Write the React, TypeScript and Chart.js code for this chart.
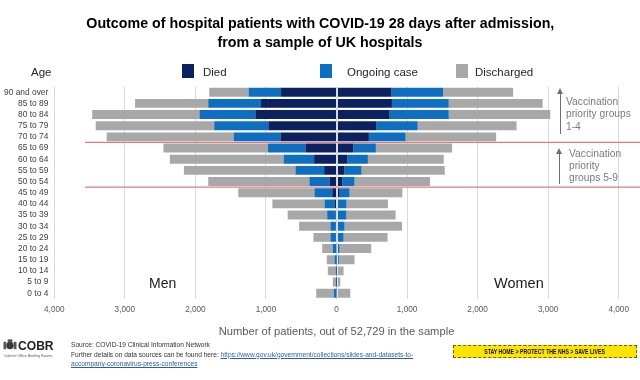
import React, { useEffect, useRef } from "react";
import { Chart, registerables } from "chart.js";

Chart.register(...registerables);

const ageGroups = [
  "90 and over", "85 to 89", "80 to 84", "75 to 79", "70 to 74", "65 to 69",
  "60 to 64", "55 to 59", "50 to 54", "45 to 49", "40 to 44", "35 to 39",
  "30 to 34", "25 to 29", "20 to 24", "15 to 19", "10 to 14", "5 to 9", "0 to 4",
];

const menDied = [786, 1070, 1151, 966, 795, 440, 317, 175, 100, 60, 30, 15, 10, 8, 5, 3, 2, 1, 5];
const menOngoing = [460, 748, 791, 767, 664, 530, 432, 407, 284, 252, 140, 117, 75, 77, 47, 25, 10, 5, 33];
const menDischarged = [558, 1037, 1520, 1680, 1798, 1483, 1613, 1581, 1434, 1080, 739, 560, 445, 242, 151, 110, 111, 46, 250];

const womenDied = [781, 786, 753, 568, 459, 237, 156, 114, 80, 45, 20, 20, 15, 12, 8, 5, 3, 2, 5];
const womenOngoing = [729, 805, 838, 583, 521, 321, 289, 241, 176, 140, 122, 120, 99, 88, 35, 28, 7, 3, 10];
const womenDischarged = [994, 1331, 1439, 1401, 1283, 1080, 1075, 1179, 1069, 748, 587, 698, 814, 624, 450, 223, 90, 48, 180];

const seriesNames = ["Died", "Ongoing case", "Discharged"];
const seriesColors = ["#0c2160", "#0e6fc1", "#a8a8a8"];

const priorityBoundaries = ["70 to 74", "50 to 54"];
const axisMax = 4000;
const axisStep = 1000;

const titleLines = [
  "Outcome of hospital patients with COVID-19 28 days after admission,",
  "from a sample of UK hospitals",
];
const axisTitle = "Number of patients, out of 52,729 in the sample";

const SANS = "'Liberation Sans', Arial, sans-serif";

const overlayPlugin = {
  id: "overlay",
  afterDatasetsDraw(chart: any) {
    const { ctx, chartArea, scales } = chart;
    const x0 = Math.round(scales.x.getPixelForValue(0)) + 0.5;
    ctx.save();
    ctx.strokeStyle = "rgba(226,232,242,0.95)";
    ctx.lineWidth = 1;
    ctx.beginPath();
    ctx.moveTo(x0, chartArea.top);
    ctx.lineTo(x0, chartArea.bottom);
    ctx.stroke();
    ctx.strokeStyle = "#e07a7a";
    ctx.lineWidth = 1.2;
    for (const label of priorityBoundaries) {
      const i = ageGroups.indexOf(label);
      const y = (scales.y.getPixelForValue(i) + scales.y.getPixelForValue(i + 1)) / 2;
      ctx.beginPath();
      ctx.moveTo(85, y);
      ctx.lineTo(chart.width, y);
      ctx.stroke();
    }
    ctx.restore();
  },
};

function PyramidChart() {
  const ref = useRef<HTMLCanvasElement | null>(null);
  useEffect(() => {
    if (!ref.current) return;
    const men = [menDied, menOngoing, menDischarged];
    const women = [womenDied, womenOngoing, womenDischarged];
    const datasets: any[] = [];
    men.forEach((arr, k) => {
      datasets.push({
        label: seriesNames[k] + " (men)",
        data: arr.map((v) => -v),
        backgroundColor: seriesColors[k],
        stack: "s",
      });
    });
    women.forEach((arr, k) => {
      datasets.push({
        label: seriesNames[k] + " (women)",
        data: arr,
        backgroundColor: seriesColors[k],
        stack: "s",
      });
    });
    const chart = new Chart(ref.current, {
      type: "bar",
      data: { labels: ageGroups, datasets },
      plugins: [overlayPlugin],
      options: {
        indexAxis: "y",
        responsive: false,
        animation: false,
        datasets: { bar: { barPercentage: 0.8, categoryPercentage: 1 } },
        layout: { padding: { top: 86.6, left: 0, right: 21.3, bottom: 41.4 } },
        plugins: {
          legend: { display: false },
          tooltip: { enabled: false },
        },
        scales: {
          x: {
            stacked: true,
            min: -axisMax,
            max: axisMax,
            afterFit: (s: any) => { s.height = 39.8; },
            ticks: {
              stepSize: axisStep,
              padding: 6,
              color: "#595959",
              font: { family: SANS, size: 8.2 },
              callback: (v: any) => Math.abs(Number(v)).toLocaleString("en-US"),
            },
            grid: { color: "#d9d9d9", drawTicks: false },
            border: { display: false },
            title: {
              display: true,
              text: axisTitle,
              color: "#595959",
              font: { family: SANS, size: 11.2, lineHeight: 1.2 },
              padding: 0,
            },
          },
          y: {
            stacked: true,
            afterFit: (s: any) => { s.width = 54.3; },
            ticks: {
              autoSkip: false,
              padding: 6,
              color: "#404040",
              font: { family: SANS, size: 8.4 },
            },
            grid: { display: false, drawTicks: false },
            border: { display: false },
          },
        },
      } as any,
    });
    return () => chart.destroy();
  }, []);
  return <canvas ref={ref} width={640} height={380} style={{ position: "absolute", left: 0, top: 0 }} />;
}

const abs = (o: any): React.CSSProperties => ({ position: "absolute", whiteSpace: "nowrap", ...o });

function Arrow({ x, top, bottom }: { x: number; top: number; bottom: number }) {
  return (
    <>
      <div style={abs({ left: x - 0.5, top: top + 5, width: 1.3, height: bottom - top - 5, background: "#6f6f6f" })} />
      <div
        style={abs({
          left: x - 3.5,
          top,
          width: 0,
          height: 0,
          borderLeft: "3.5px solid transparent",
          borderRight: "3.5px solid transparent",
          borderBottom: "6px solid #6f6f6f",
        })}
      />
    </>
  );
}

export default function App() {
  const noteStyle = {
    color: "#7a7a7a",
    fontFamily: SANS,
    fontSize: 11.5,
    lineHeight: "12.3px",
    transform: "scaleX(0.89)",
    transformOrigin: "left top",
  };
  const legendText = { fontFamily: SANS, fontSize: 11.5, color: "#262626", lineHeight: "14px" };
  return (
    <div style={{ position: "fixed", left: 0, top: 0, width: 640, height: 380, background: "#fff", overflow: "hidden" }}>
      <PyramidChart />
      {/* title */}
      {titleLines.map((t, i) => (
        <div key={i} style={abs({ left: 0, width: 640, top: 14 + i * 19, textAlign: "center", lineHeight: "18px" })}>
          <span
            style={{
              display: "inline-block",
              fontFamily: SANS,
              fontWeight: "bold",
              fontSize: 15,
              color: "#000",
              transform: "scaleX(0.95)",
              transformOrigin: "center",
            }}
          >
            {t}
          </span>
        </div>
      ))}
      {/* legend row */}
      <div style={abs({ left: 31, top: 65, ...legendText })}>Age</div>
      {seriesNames.map((n, k) => {
        const bx = [182, 320, 456][k];
        const tx = [203, 347, 475][k];
        return (
          <React.Fragment key={n}>
            <div style={abs({ left: bx, top: 64, width: 12, height: 14, background: seriesColors[k] })} />
            <div style={abs({ left: tx, top: 65, ...legendText })}>{n}</div>
          </React.Fragment>
        );
      })}
      {/* annotations */}
      <Arrow x={560} top={88} bottom={134} />
      <div style={abs({ left: 565.5, top: 95, ...noteStyle })}>
        Vaccination<br />priority groups<br />1-4
      </div>
      <Arrow x={559.5} top={148} bottom={184} />
      <div style={abs({ left: 569, top: 148, ...noteStyle, lineHeight: "11.8px" })}>
        Vaccination<br />priority<br />groups 5-9
      </div>
      <div style={abs({ left: 149, top: 275, fontFamily: SANS, fontSize: 14, color: "#1a1a1a" })}>Men</div>
      <div style={abs({ left: 494, top: 275, fontFamily: SANS, fontSize: 14.5, color: "#1a1a1a" })}>Women</div>
      {/* footer */}
      <svg style={abs({ left: 3, top: 339, width: 14, height: 13 })} viewBox="0 0 15 14">
        <circle cx="7.5" cy="7" r="4" fill="#3a3a3a" />
        <rect x="0.5" y="3" width="3" height="8" fill="#555" />
        <rect x="11.5" y="3" width="3" height="8" fill="#555" />
        <rect x="5" y="0.5" width="5" height="2.5" fill="#444" />
      </svg>
      <div
        style={abs({
          left: 18,
          top: 338,
          fontFamily: SANS,
          fontSize: 13,
          fontWeight: "bold",
          color: "#222",
          transform: "scaleX(0.93)",
          transformOrigin: "left top",
        })}
      >
        COBR
      </div>
      <div style={abs({ left: 4, top: 354, fontFamily: SANS, fontSize: 3.6, color: "#555" })}>Cabinet Office Briefing Rooms</div>
      <div style={abs({ left: 71, top: 340, fontFamily: SANS, fontSize: 6.6, color: "#333", lineHeight: "9.5px" })}>
        Source: COVID-19 Clinical Information Network
        <br />
        Further details on data sources can be found here:{" "}
        <span style={{ color: "#2a5db0", textDecoration: "underline" }}>
          https://www.gov.uk/government/collections/slides-and-datasets-to-
        </span>
        <br />
        <span style={{ color: "#2a5db0", textDecoration: "underline" }}>accompany-coronavirus-press-conferences</span>
      </div>
      <div
        style={abs({
          left: 453,
          top: 345,
          width: 184,
          height: 13,
          background: "#fde400",
          border: "1px dashed #6a6200",
          boxSizing: "border-box",
          display: "flex",
          alignItems: "center",
          justifyContent: "center",
        })}
      >
        <span
          style={{
            display: "inline-block",
            fontFamily: SANS,
            fontWeight: "bold",
            fontSize: 7,
            lineHeight: "8px",
            color: "#111",
            transform: "scaleX(0.74)",
            transformOrigin: "center",
          }}
        >
          STAY HOME &gt; PROTECT THE NHS &gt; SAVE LIVES
        </span>
      </div>
    </div>
  );
}
